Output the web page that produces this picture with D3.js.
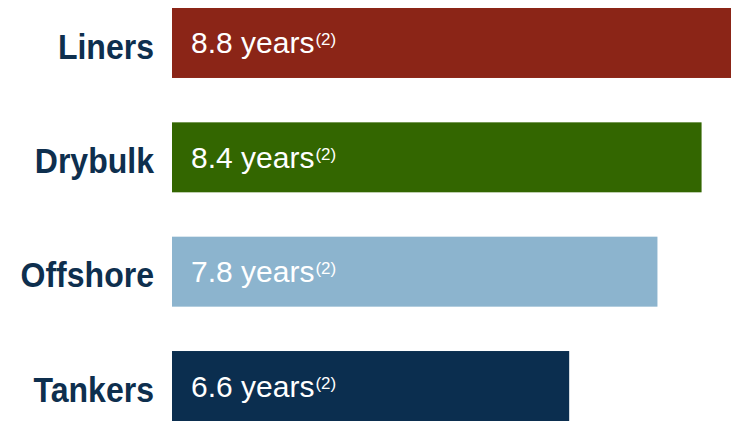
<!DOCTYPE html>
<html>
<head lang="en">
    <meta charset="UTF-8">
    <title></title>
    <script src="https://cdn.jsdelivr.net/npm/d3@7"></script>
    <style>
        body{ margin:0; background:#fff; }
        .axis text{
            font-family:"Liberation Sans",Arial,sans-serif;
            font-weight:bold;
            font-size:36px;
            fill:#0e2f4e;
        }
        .val{
            font-family:"Liberation Sans",Arial,sans-serif;
            font-size:30px;
            fill:#fff;
        }
    </style>
</head>
<body>
<svg width="731" height="425"></svg>
<script>
    var categories = ["Liners", "Drybulk", "Offshore", "Tankers"];
    var ages = [8.8, 8.4, 7.8, 6.6];
    var colors = ["#8b2517", "#336600", "#8cb4ce", "#0b2e4f"];
    var note = "(2)";

    var svg = d3.select("svg");
    var left = 172, width = 731;

    var xScale = d3.scaleLinear()
            .domain([1.2, 8.8])
            .range([left, width]);

    var yScale = d3.scaleBand()
            .domain(categories)
            .range([8, 421])
            .paddingInner(0.388)
            .paddingOuter(0);

    // category labels, squeezed a bit to look like the narrow original font
    var yAxis = d3.axisLeft(yScale).tickSize(0).tickPadding(0);
    var gy = svg.append("g")
            .attr("class", "axis")
            .attr("transform", "translate(" + left + ",0)")
            .call(yAxis);
    gy.select(".domain").remove();
    gy.selectAll("text")
            .attr("x", 0)
            .attr("dy", 15.5)
            .attr("transform", "translate(-18,0) scale(0.89,1)");

    var rows = svg.append("g")
            .selectAll(".row")
            .data(categories)
            .enter()
            .append("g")
            .attr("class", "row");

    rows.append("rect")
            .attr("x", xScale(xScale.domain()[0]))
            .attr("y", function (d) { return yScale(d); })
            .attr("width", function (d, i) { return xScale(ages[i]) - left; })
            .attr("height", yScale.bandwidth())
            .attr("fill", function (d, i) { return colors[i]; });

    var t = rows.append("text")
            .attr("class", "val")
            .attr("x", left + 19)
            .attr("y", function (d) { return yScale(d) + yScale.bandwidth() / 2 + 10.5; });
    t.append("tspan").text(function (d, i) { return ages[i].toFixed(1) + " years"; });
    t.append("tspan")
            .attr("dx", 1)
            .attr("dy", -8)
            .attr("font-size", 17)
            .text(note);
</script>
</body>
</html>
